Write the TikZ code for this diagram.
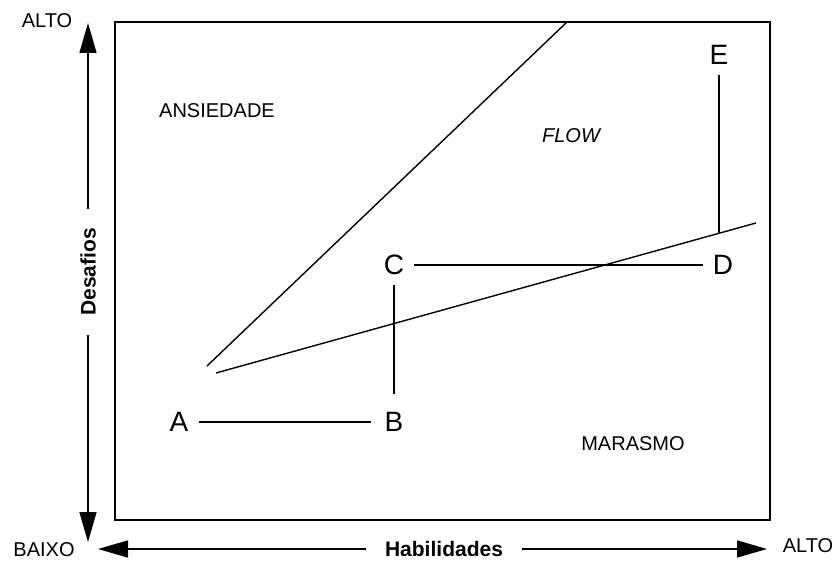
\documentclass[tikz,border=0pt]{standalone}
\usepackage{fontspec}
\setmainfont{Liberation Sans}
\usetikzlibrary{arrows.meta}
\begin{document}
\begin{tikzpicture}[x=1pt,y=-1pt,
   axis/.style={line width=1.5pt,-{Triangle[length=30pt,width=17pt]}},
   region/.style={font=\fontsize{20}{24}\selectfont},
   point/.style={font=\fontsize{28}{32}\selectfont,inner sep=10pt},
   axislabel/.style={font=\fontsize{21}{25}\selectfont\bfseries,inner xsep=19pt,inner ysep=2pt},
   path/.style={line width=1.4pt}]
   \useasboundingbox (0,0) rectangle (840,561);

   % Frame of the chart
   \draw[line width=1.8pt] (115,22) rectangle (770,520);

   % Axes with their labels
   \node[axislabel,rotate=90] (desafios) at (88,272) {Desafios};
   \node[axislabel] (habilidades) at (444,549) {Habilidades};
   \coordinate (ytop) at (88,23);
   \coordinate (ybot) at (88,542);
   \coordinate (xleft) at (98,549);
   \coordinate (xright) at (767,549);
   \draw[axis] (desafios) -- (ytop);
   \draw[axis] (desafios) -- (ybot);
   \draw[axis] (habilidades) -- (xleft);
   \draw[axis] (habilidades) -- (xright);

   \node[region] (altoy) at (47,21) {ALTO};
   \node[region] (baixo) at (44,550) {BAIXO};
   \node[region] (altox) at (808,546) {ALTO};

   % Regions
   \node[region] (ansiedade) at (217,111) {ANSIEDADE};
   \node[region,font=\fontsize{20}{24}\selectfont\itshape] (flow) at (571,136) {FLOW};
   \node[region] (marasmo) at (633,444) {MARASMO};

   % Channel borders
   \coordinate (up1) at (207,366);
   \coordinate (up2) at (567,22);
   \coordinate (lo1) at (216,373);
   \coordinate (lo2) at (756,223);
   \draw[path] (up1) -- (up2);
   \draw[path] (lo1) -- (lo2);

   % Points and the path between them
   \foreach \n/\x/\y in {A/179/422, B/394/422, C/394/265, D/723/265, E/719/55} {
       \node[point] (\n) at (\x,\y) {\n};
   }
   \coordinate (ed) at (719,233);
   \draw[path,shorten >=3pt] (A) -- (B);
   \draw[path,shorten >=8pt] (C) -- (B);
   \draw[path] (C) -- (D);
   \draw[path] (E) -- (ed);
\end{tikzpicture}
\end{document}
